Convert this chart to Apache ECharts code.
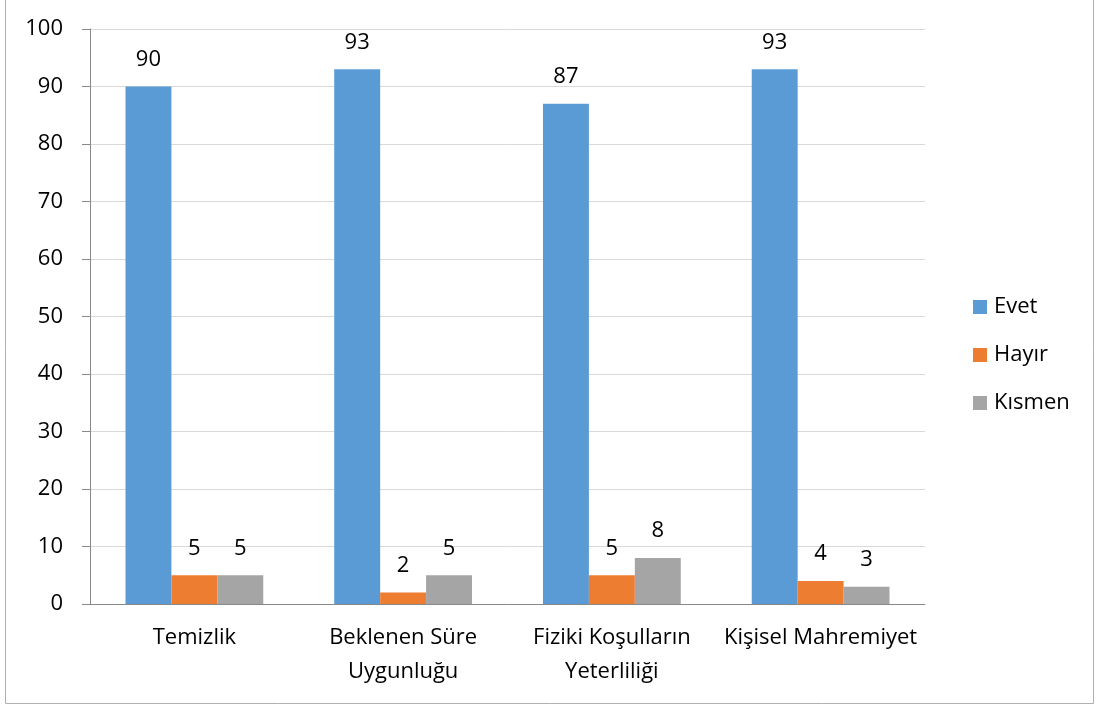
<!DOCTYPE html>
<html>
<head>
<meta charset="utf-8">
<script src="https://cdn.jsdelivr.net/npm/echarts@6/dist/echarts.min.js"></script>
<style>
  html, body { margin: 0; padding: 0; background: #fff; }
  #main { width: 1099px; height: 709px; }
</style>
</head>
<body>
<div id="main"></div>
<script>
  // categories and values
  var categories = ['Temizlik', 'Beklenen Süre\nUygunluğu', 'Fiziki Koşulların\nYeterliliği', 'Kişisel Mahremiyet'];
  var evet = [90, 93, 87, 93];
  var hayir = [5, 2, 5, 4];
  var kismen = [5, 5, 8, 3];
  var yTicks = [0, 10, 20, 30, 40, 50, 60, 70, 80, 90, 100];

  var fontFamily = '"Open Sans", "Noto Sans", sans-serif';
  var myChart = echarts.init(document.getElementById('main'));

  function barSeries(name, data, color) {
    return {
      name: name,
      type: 'bar',
      data: data,
      barGap: '0%',
      barCategoryGap: '34%',
      itemStyle: { color: color },
      label: {
        show: true,
        position: 'top',
        distance: 16,
        color: '#000',
        fontSize: 22,
        fontFamily: fontFamily
      }
    };
  }

  var option = {
    animation: false,
    textStyle: { fontFamily: fontFamily },
    graphic: [{
      type: 'polyline',
      shape: { points: [[5.5, 0], [5.5, 703.5], [1093.5, 703.5], [1093.5, 0]] },
      style: { stroke: '#b0b0b0', lineWidth: 1, fill: null }
    }],
    grid: { left: 90, right: 174, top: 29, bottom: 105 },
    legend: {
      orient: 'vertical',
      left: 968,
      top: 291,
      itemWidth: 14,
      itemHeight: 14,
      itemGap: 26,
      icon: 'rect',
      textStyle: { fontSize: 22, lineHeight: 22, color: '#000', fontFamily: fontFamily, padding: [0, 0, 0, 2] },
      data: ['Evet', 'Hayır', 'Kısmen']
    },
    xAxis: {
      type: 'category',
      data: categories,
      axisLine: { lineStyle: { color: '#898989' } },
      axisTick: { length: 7, lineStyle: { color: '#898989' } },
      axisLabel: { color: '#000', fontSize: 22, margin: 17, lineHeight: 34, interval: 0 }
    },
    yAxis: {
      type: 'value',
      min: 0,
      max: 100,
      interval: 10,
      axisLine: { show: true, lineStyle: { color: '#898989' } },
      axisTick: { show: true, length: 8, lineStyle: { color: '#898989' } },
      splitLine: { lineStyle: { color: '#d9d9d9' } },
      axisLabel: {
        color: '#000', fontSize: 22, margin: 27,
        formatter: function (v) { return yTicks.indexOf(v) >= 0 ? String(v) : ''; }
      }
    },
    series: [
      barSeries('Evet', evet, '#5b9bd5'),
      barSeries('Hayır', hayir, '#ed7d31'),
      barSeries('Kısmen', kismen, '#a5a5a5')
    ]
  };

  myChart.setOption(option);
</script>
</body>
</html>
